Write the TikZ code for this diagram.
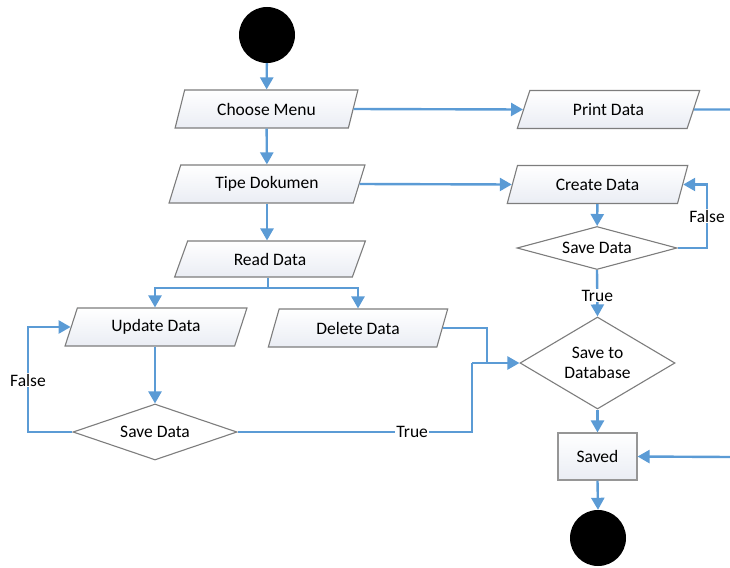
\documentclass[tikz,border=0pt]{standalone}
\usepackage{fontspec}
\setmainfont{Carlito}
\usetikzlibrary{shapes.geometric,arrows.meta}
\definecolor{flowblue}{RGB}{91,155,213}
\definecolor{shapeedge}{RGB}{125,125,125}
\definecolor{boxedge}{RGB}{150,150,150}
\definecolor{shapefill}{RGB}{234,237,244}
\begin{document}
\begin{tikzpicture}[x=1pt,y=-1pt, font=\fontsize{17.5}{20}\selectfont,
  para/.style={trapezium, trapezium left angle=65, trapezium right angle=115,
    trapezium stretches=true, draw=shapeedge, line width=1.1pt,
    top color=white, bottom color=shapefill, inner sep=0pt, minimum height=38pt},
  dia/.style={diamond, draw=shapeedge, line width=1.1pt, fill=white, inner sep=0pt, align=center},
  boxn/.style={rectangle, draw=boxedge, line width=1.1pt, top color=white, bottom color=shapefill, inner sep=0pt},
  dot/.style={circle, fill=black, inner sep=0pt, minimum size=56pt},
  flow/.style={draw=flowblue, line width=2.4pt, -{Triangle[length=12pt,width=13pt]}},
  link/.style={draw=flowblue, line width=2.4pt},
  lbl/.style={fill=white, inner sep=1pt, text=black}]
\useasboundingbox (0,0) rectangle (730,567);

% nodes
\node[dot] (start) at (267,35) {};
\node[para, minimum width=183pt] (choose) at (266.5,109) {Choose Menu};
\node[para, minimum width=183pt] (print) at (608.5,109.5) {Print Data};
\node[para, minimum width=196pt] (tipe) at (267,184) {Tipe Dokumen};
\node[para, minimum width=181pt] (create) at (597.5,184.5) {Create Data};
\node[para, minimum width=191pt, minimum height=36pt] (read) at (270,259) {Read Data};
\node[para, minimum width=182pt] (update) at (156,327) {Update Data};
\node[para, minimum width=180pt] (delete) at (358,328) {Delete Data};
\node[dia, aspect=2.93, minimum width=164pt, minimum height=56pt] (save1) at (155,432) {Save Data};
\node[dia, aspect=3.72, minimum width=160pt, minimum height=43pt] (save2) at (597,248) {Save Data};
\node[dia, aspect=1.68, minimum width=155pt, minimum height=92pt] (db) at (597.5,363) {Save to\\Database};
\node[boxn, minimum width=79pt, minimum height=47pt] (saved) at (597.5,456.5) {Saved};
\node[dot] (end) at (598,538) {};

% helper coordinates
\coordinate (printout) at (730,109.5);
\coordinate (savedin) at (730,457);
\coordinate (split) at (268,288);
\coordinate (lloop) at (28,380);
\coordinate (tcorner) at (472,432);
\coordinate (tjoin) at (472,363);
\coordinate (djoin) at (487,363);
\coordinate (rloop) at (707,216);

% connectors
\draw[flow] (start) -- (choose);
\draw[flow] (choose.east) -- (print.west);
\draw[link] (print.east) -- (printout);
\draw[flow] (choose) -- (tipe);
\draw[flow] (tipe.east) -- (create.west);
\draw[flow] (tipe.south) -- (tipe.south |- read.north);
\draw[link] (read.south -| split) -- (split);
\draw[flow] (split) -| (update.north -| 155,0);
\draw[flow] (split) -| (delete.north);
\draw[flow] (update.south -| 155,0) -- (save1.north);
\draw[flow] (save1.west) -| (lloop) node[lbl]{False} |- (update.west);
\draw[link] (save1.east) -- node[lbl, pos=0.745]{True} (tcorner) -- (tjoin);
\draw[flow] (tjoin) -- (db.west);
\draw[link] (delete.east) -| (djoin);
\draw[flow] (create) -- (save2);
\draw[flow] (save2.east) -| (rloop) node[lbl]{False} |- (create.east);
\draw[flow] (save2.south) -- node[lbl, pos=0.55]{True} (db.north);
\draw[flow] (db.south) -- (saved.north);
\draw[flow] (savedin) -- (saved.east);
\draw[flow] (saved.south) -- (end.north);
\end{tikzpicture}
\end{document}
